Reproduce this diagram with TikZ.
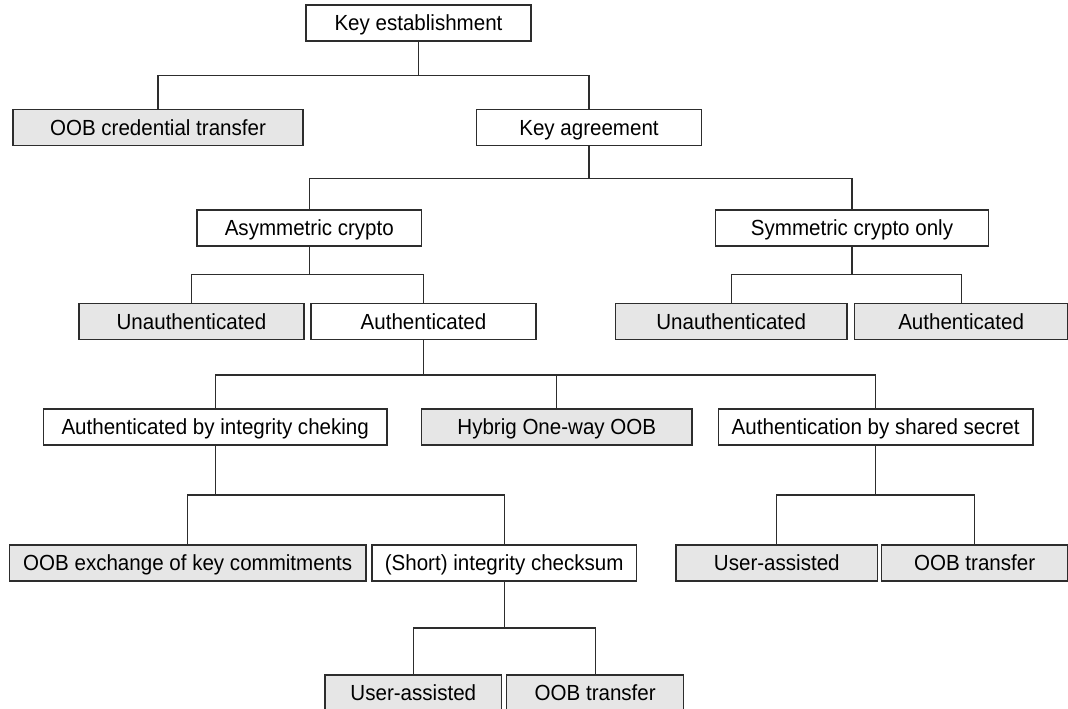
\documentclass[tikz,border=0pt]{standalone}
\usepackage{fontspec}
\setmainfont{Liberation Sans}[FakeStretch=0.94]
\definecolor{leaffill}{RGB}{230,230,230}
\definecolor{edgecol}{RGB}{45,45,45}
\tikzset{
  box/.style={draw=edgecol, line width=0.9pt, rectangle, inner sep=0pt,
    minimum height=27pt, text height=11.8pt, text depth=0pt,
    font=\fontsize{16.4pt}{19pt}\selectfont, fill=white},
  leaf/.style={box, fill=leaffill},
  link/.style={draw=edgecol, line width=0.9pt}
}
\begin{document}
\begin{tikzpicture}[x=0.75pt, y=-0.75pt]
\useasboundingbox (0,0) rectangle (1068,709);

% level 0 and 1
\node[box,  minimum width=168.75pt] (kest)    at (418.5,23)    {Key establishment};
\node[leaf, minimum width=217.5pt]  (oobcred) at (158,127.5)   {OOB credential transfer};
\node[box,  minimum width=168.5pt]  (kagr)    at (589,127.5)   {Key agreement};

% crypto families
\node[box,  minimum width=168.5pt]  (asym)    at (309.3,228)   {Asymmetric crypto};
\node[box,  minimum width=205pt]    (sym)     at (852,228)     {Symmetric crypto only};

\node[leaf, minimum width=168.75pt] (unauthA) at (191.5,321.7) {Unauthenticated};
\node[box,  minimum width=168.75pt] (authA)   at (423.5,321.7) {Authenticated};
\node[leaf, minimum width=173.8pt]  (unauthS) at (731.2,321.7) {Unauthenticated};
\node[leaf, minimum width=159.6pt]  (authS)   at (961.1,321.7) {Authenticated};

% authenticated variants
\node[box,  minimum width=257.8pt]  (aic)     at (215.2,427)   {Authenticated by integrity cheking};
\node[leaf, minimum width=202.7pt]  (hyb)     at (556.8,427)   {Hybrig One-way OOB};
\node[box,  minimum width=236pt]    (ass)     at (875.7,427)   {Authentication by shared secret};

\node[leaf, minimum width=267.5pt]  (oobx)    at (187.7,563)   {OOB exchange of key commitments};
\node[box,  minimum width=198.2pt]  (short)   at (504.2,563)   {(Short) integrity checksum};
\node[leaf, minimum width=151.3pt]  (uaR)     at (776.8,563)   {User-assisted};
\node[leaf, minimum width=139.4pt]  (oobR)    at (974.6,563)   {OOB transfer};

\node[leaf, minimum width=132.5pt]  (uaB)     at (413.3,693)   {User-assisted};
\node[leaf, minimum width=132.8pt]  (oobB)    at (595.2,693)   {OOB transfer};

% heights of the horizontal bus lines
\coordinate (bus1) at (0,75.5);
\coordinate (bus2) at (0,178.5);
\coordinate (bus3) at (0,274.3);
\coordinate (bus4) at (0,375);
\coordinate (bus5) at (0,495);
\coordinate (bus6) at (0,628);

% elbow connectors: parent stem, bus, child drop
\foreach \p/\c/\b in {kest/oobcred/bus1, kest/kagr/bus1,
                      kagr/asym/bus2, kagr/sym/bus2,
                      asym/unauthA/bus3, asym/authA/bus3,
                      sym/unauthS/bus3, sym/authS/bus3,
                      authA/aic/bus4, authA/hyb/bus4, authA/ass/bus4,
                      aic/oobx/bus5, aic/short/bus5,
                      ass/uaR/bus5, ass/oobR/bus5,
                      short/uaB/bus6, short/oobB/bus6}
  \draw[link] (\p.south) |- (\c.north |- \b) -- (\c.north);
\end{tikzpicture}
\end{document}
